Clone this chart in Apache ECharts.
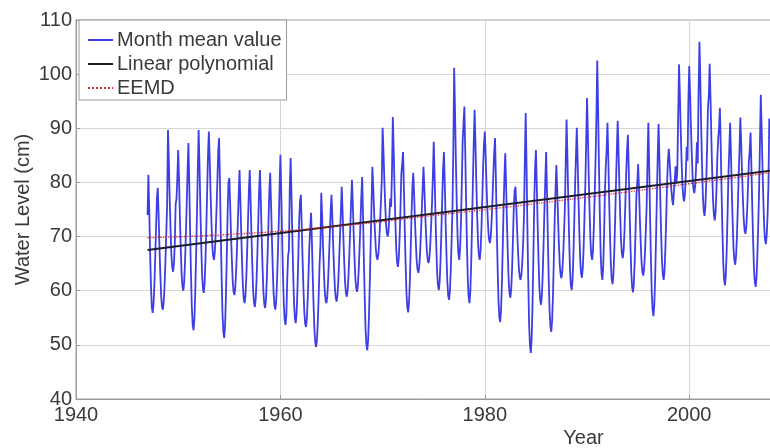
<!DOCTYPE html>
<html>
<head>
<meta charset="utf-8">
<script src="https://cdn.jsdelivr.net/npm/echarts@6/dist/echarts.min.js"></script>
<style>
  html, body { margin: 0; padding: 0; background: #fff; }
  #chart { width: 770px; height: 448px; }
</style>
</head>
<body>
<div id="chart"></div>
<script>
// Monthly mean water level (cm), Jan..Dec for each year, starting January 1947
const firstYear = 1947;
const level1940s = [
  74, 81.4, 75, 67, 61, 57, 55.9, 57.4, 61, 66, 71.7, 77,
  79, 74, 68, 63, 59, 57, 56.5, 58, 61, 65.5, 70.5, 76,
  89.7, 84, 77, 71.4, 66.6, 64.3, 63.5, 65, 68.7, 76, 77, 81
];
const level1950s = [
  86, 80.3, 73.5, 67.8, 63.1, 60.8, 60, 61.6, 65.2, 70.4, 76.1, 82.1,
  87.3, 79.7, 70.7, 63.1, 56.9, 53.7, 52.7, 54.8, 59.6, 66.5, 74.2, 82.1,
  89.7, 83.1, 75.3, 68.6, 63.2, 60.5, 59.6, 61.4, 65.6, 71.6, 78.3, 85.2,
  89.4, 84.2, 78, 72.8, 68.5, 66.4, 65.7, 67.1, 70.4, 75.2, 80.4, 85.8,
  88.2, 80.1, 70.5, 62.4, 55.7, 52.4, 51.3, 53.5, 58.7, 66.1, 74.2, 80,
  80.8, 76, 70.4, 65.7, 61.8, 59.8, 59.2, 60.5, 63.5, 67.8, 72.6, 77.6,
  82.3, 76.9, 70.5, 65.1, 60.7, 58.4, 57.7, 59.2, 62.6, 67.5, 73, 78.6,
  82.3, 76.7, 70.2, 64.6, 60, 57.8, 57, 58.5, 62.1, 67.1, 72.7, 78.5,
  82.3, 76.7, 70.1, 64.5, 59.9, 57.6, 56.8, 58.3, 61.9, 67, 72.6, 78.5,
  81.8, 76.2, 69.7, 64.1, 59.5, 57.3, 56.5, 58, 61.6, 66.6, 72.2, 78.8
];
const level1960s = [
  85.1, 78.2, 70, 63.1, 57.5, 54.6, 53.7, 55.6, 62, 66.5, 67.5, 79,
  84.5, 77.8, 69.9, 63.2, 57.7, 54.9, 54, 55.8, 60.1, 66.2, 72.9, 76.5,
  77.7, 72.3, 66, 60.6, 56.2, 54, 53.3, 54.8, 58.2, 63.1, 68.4, 71.5,
  74.4, 69, 62.5, 57, 52.6, 50.3, 49.6, 51.1, 54.6, 59.5, 65, 68.5,
  78.1, 73.6, 68.3, 63.8, 60.1, 58.3, 57.7, 58.9, 61.8, 65.9, 70.3, 74.8,
  77.7, 73.4, 68.2, 63.9, 60.4, 58.6, 58, 59.2, 61.9, 65.9, 70.2, 74.7,
  79.2, 74.7, 69.5, 65, 61.3, 59.5, 58.9, 60.1, 63, 67, 71.5, 76.2,
  80.5, 76, 70.6, 66, 62.3, 60.4, 59.8, 61, 64, 68.1, 72.6, 77.4,
  81, 74, 65.6, 58.6, 52.8, 50, 49, 50.9, 55.4, 61.8, 68.8, 76,
  82.9, 79.1, 74.6, 70.9, 67.8, 66.2, 65.7, 66.7, 69.1, 72.6, 76.4, 80.3
];
const level1970s = [
  90.1, 85.8, 80.5, 76, 72.4, 70.6, 70, 71.2, 74, 77, 75.5, 82,
  92.1, 86, 78.8, 72.7, 67.7, 65.2, 64.4, 66.1, 70, 75.5, 81.6, 83.5,
  85.6, 79.1, 71.4, 64.9, 59.6, 56.9, 56, 57.8, 61.9, 67.8, 74.4, 79.2,
  81.8, 77.7, 72.9, 68.9, 65.5, 63.9, 63.3, 64.4, 67, 70.7, 74.8, 79,
  82.9, 79, 74.4, 70.4, 67.2, 65.6, 65.1, 66.2, 68.7, 72.2, 76.1, 81.2,
  87.5, 81.5, 74.3, 68.3, 63.4, 60.9, 60.1, 61.7, 65.6, 71.1, 77.1, 82.5,
  85.6, 79.6, 72.5, 66.5, 61.6, 59.1, 58.3, 59.9, 63.8, 69.2, 75.2, 86,
  101.2, 93.4, 84.2, 76.4, 70, 66.8, 65.7, 67.8, 72.8, 79.9, 87.7, 91,
  94, 86, 76.6, 68.6, 62.1, 58.8, 57.7, 59.9, 65, 72.2, 80.2, 87.5,
  93.4, 87.3, 80.1, 74, 69, 66.5, 65.7, 67.4, 71.2, 76.8, 82.9, 87
];
const level1980s = [
  89.4, 84.9, 79.5, 75, 71.3, 69.4, 68.8, 70, 72.9, 77, 81.6, 85.5,
  88.2, 80.7, 71.9, 64.4, 58.3, 55.2, 54.2, 56.2, 61, 67.8, 75.3, 81,
  85.4, 79.5, 72.6, 66.7, 61.9, 59.5, 58.7, 60.3, 64, 69.4, 75.3, 78.5,
  79.2, 75.4, 70.9, 67.2, 64.1, 62.5, 62, 63, 65.4, 68.9, 74, 84.5,
  92.8, 83, 71.5, 61.8, 53.8, 49.8, 48.5, 51.2, 57.4, 66.2, 76, 82.5,
  86, 79.7, 72.3, 66, 60.8, 58.3, 57.4, 59.1, 63.1, 68.8, 75.1, 80.5,
  85.6, 78.3, 69.7, 62.4, 56.4, 53.4, 52.4, 54.4, 59, 65.7, 73, 78.5,
  83.2, 78.6, 73.2, 68.6, 64.8, 62.9, 62.3, 63.6, 66.5, 70.7, 75.3, 84,
  91.6, 84.7, 76.5, 69.6, 63.9, 61, 60.1, 62, 66.4, 72.7, 79.6, 85,
  90.1, 84, 76.8, 70.7, 65.7, 63.2, 62.4, 64.1, 67.9, 73.5, 79.6, 87.5
];
const level1990s = [
  95.6, 89, 81.2, 74.7, 69.3, 66.6, 65.7, 67.5, 71.7, 77.7, 84.2, 92,
  102.5, 93.6, 83.1, 74.2, 66.9, 63.2, 62, 64.4, 70.1, 78.2, 83, 86,
  91, 84.4, 76.7, 70.1, 64.8, 62.1, 61.2, 63, 67.2, 73.1, 79.7, 86,
  91.4, 85.8, 79.2, 73.6, 69, 66.8, 66, 67.5, 71.1, 76.2, 81.7, 86,
  88.8, 82.4, 74.8, 68.4, 63.2, 60.6, 59.7, 61.4, 65.5, 71.3, 77.7, 80,
  83.4, 78.9, 73.5, 69, 65.3, 63.4, 62.8, 64, 66.9, 71, 75.6, 84,
  91, 83.1, 73.9, 66, 59.6, 56.4, 55.3, 57.4, 62.4, 69.6, 77.4, 85,
  90.8, 84.5, 77, 70.6, 65.5, 62.9, 62, 63.7, 67.8, 73.5, 79.9, 84,
  86.2, 83.8, 81.1, 78.7, 76.8, 75.8, 75.5, 76.1, 83, 79.8, 82.1, 92,
  101.8, 96.2, 89.7, 84.1, 79.5, 77.3, 76.5, 78, 81.6, 86.6, 84, 95
];
const level2000s = [
  101.5, 96.3, 90.2, 85.1, 80.8, 78.7, 78, 79.4, 82.7, 87.4, 83.5, 97,
  106, 98.9, 90.5, 83.5, 77.7, 74.8, 73.8, 75.7, 80.2, 86.7, 93.8, 96,
  101.9, 95.5, 88, 81.7, 76.5, 73.9, 73, 74.7, 78.8, 84.6, 88, 90,
  93.8, 86.6, 78.1, 70.8, 64.9, 62, 61, 63, 67.6, 74.1, 81.3, 86,
  91, 85.2, 78.4, 72.7, 67.9, 65.6, 64.8, 66.4, 70, 75.3, 81, 86,
  92, 87.3, 81.7, 77, 73.1, 71.1, 70.5, 71.8, 74.8, 79.1, 83.8, 86,
  89.2, 82.9, 75.5, 69.3, 64.1, 61.6, 60.7, 62.4, 66.4, 72.1, 78.4, 87,
  96.2, 90.1, 82.9, 76.9, 71.9, 69.4, 68.6, 70.3, 74.1, 79.6, 91.8, 88
];

// Fitted trend lines (year, cm)
const linearYears = [1947, 2008];
const linearLevels = [67.5, 82.2];
const eemdYears = [1947, 1955, 1965, 1975, 1985, 1995, 2008];
const eemdLevels = [69.8, 70.4, 71.8, 73.9, 76.1, 78.5, 81.8];

// Axis ticks
const xTicks = [1940, 1960, 1980, 2000];
const yTicks = [40, 50, 60, 70, 80, 90, 100, 110];

const monthly = [].concat(level1940s, level1950s, level1960s, level1970s,
                          level1980s, level1990s, level2000s);
const monthlyPoints = monthly.map((v, i) => [firstYear + i / 12, v]);
const linearPoints = linearYears.map((y, i) => [y, linearLevels[i]]);
const eemdPoints = eemdYears.map((y, i) => [y, eemdLevels[i]]);

const FONT = '"Liberation Sans", Arial, sans-serif';
const TEXT = '#3a3a3a';
const chart = echarts.init(document.getElementById('chart'), null, { renderer: 'canvas' });

chart.setOption({
  animation: false,
  backgroundColor: '#ffffff',
  textStyle: { fontFamily: FONT },
  grid: {
    left: 76, right: -1, top: 20, bottom: 49,
    outerBoundsMode: 'none', containLabel: false,
    show: true, borderColor: '#9a9a9a', borderWidth: 1, backgroundColor: '#ffffff'
  },
  legend: {
    orient: 'vertical',
    left: 79, top: 20,
    padding: [10, 5, 2, 8],
    itemGap: 4,
    itemWidth: 25, itemHeight: 14,
    backgroundColor: '#ffffff',
    borderColor: '#9a9a9a', borderWidth: 1,
    itemStyle: { opacity: 0 },
    textStyle: { fontFamily: FONT, fontSize: 20, color: TEXT, padding: [0, 0, 0, -1] },
    data: ['Month mean value', 'Linear polynomial', 'EEMD']
  },
  xAxis: {
    type: 'value',
    min: xTicks[0], max: 2008, interval: 20,
    name: 'Year', nameLocation: 'middle', nameGap: 29, nameMoveOverlap: false,
    nameTextStyle: { fontFamily: FONT, fontSize: 20, color: TEXT, padding: [0, 0, 0, 320] },
    axisLine: { show: true, lineStyle: { color: '#9a9a9a' } },
    axisTick: { show: true, inside: true, length: 4, lineStyle: { color: '#9a9a9a' } },
    axisLabel: { fontFamily: FONT, fontSize: 20, color: TEXT, margin: 6,
                 formatter: v => xTicks.includes(v) ? String(v) : '' },
    splitLine: { show: true, lineStyle: { color: '#d6d6d6', width: 1 } }
  },
  yAxis: {
    type: 'value',
    min: yTicks[0], max: yTicks[yTicks.length - 1], interval: 10,
    name: 'Water Level (cm)', nameLocation: 'middle', nameGap: 43, nameMoveOverlap: false,
    nameTextStyle: { fontFamily: FONT, fontSize: 20, color: TEXT },
    axisLine: { show: true, lineStyle: { color: '#9a9a9a' } },
    axisTick: { show: true, inside: true, length: 4, lineStyle: { color: '#9a9a9a' } },
    axisLabel: { fontFamily: FONT, fontSize: 20, color: TEXT, margin: 4 },
    splitLine: { show: true, lineStyle: { color: '#d6d6d6', width: 1 } }
  },
  series: [
    {
      name: 'Month mean value', type: 'line', data: monthlyPoints,
      symbol: 'none', showSymbol: false,
      color: '#3e3ee6',
      lineStyle: { color: '#3e3ee6', width: 1.8 },
      z: 2
    },
    {
      name: 'Linear polynomial', type: 'line', data: linearPoints,
      symbol: 'none', showSymbol: false,
      color: '#1e1e28',
      lineStyle: { color: '#1e1e28', width: 2 },
      z: 3
    },
    {
      name: 'EEMD', type: 'line', data: eemdPoints, smooth: true,
      symbol: 'none', showSymbol: false,
      color: '#d42a2a',
      lineStyle: { color: '#d42a2a', width: 1.3, type: 'dotted' },
      z: 4
    }
  ]
});
</script>
</body>
</html>
